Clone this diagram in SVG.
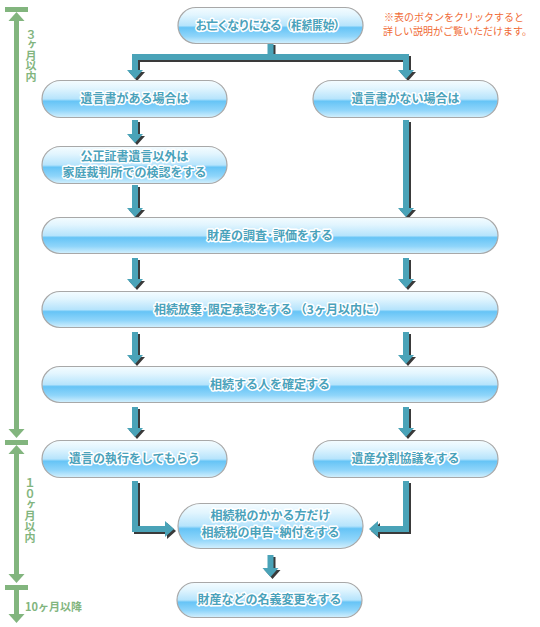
<svg xmlns="http://www.w3.org/2000/svg" xmlns:xlink="http://www.w3.org/1999/xlink" width="540" height="627" viewBox="0 0 540 627">
<defs>
<linearGradient id="pg" x1="0" y1="0" x2="0" y2="1">
<stop offset="0" stop-color="#f4fcff"/>
<stop offset="0.2" stop-color="#e2f5fe"/>
<stop offset="0.5" stop-color="#b6e4fc"/>
<stop offset="0.56" stop-color="#66c4f6"/>
<stop offset="0.8" stop-color="#8fd5fa"/>
<stop offset="1" stop-color="#d4f0fd"/>
</linearGradient>
<style>
.pill{fill:url(#pg);stroke:#a8a8a8;stroke-width:1.2}
.pt{font-family:"Noto Sans CJK JP","Noto Sans",sans-serif;font-weight:bold;font-size:12px;fill:#4aa2bb;stroke:#ffffff;stroke-width:3;stroke-linejoin:round;paint-order:stroke;text-anchor:middle}
.arr{fill:#4aa3b8}
.sh{fill:#3a3a3a}
.tl{fill:#82b57e}
.tlt{font-family:"Noto Sans CJK JP","Noto Sans",sans-serif;font-weight:bold;font-size:11px;fill:#82b57e}
.vt{writing-mode:vertical-rl;text-orientation:upright}
.note{font-family:"Noto Sans CJK JP","Noto Sans",sans-serif;font-size:10px;fill:#f06a35}
</style>
<g id="arrowshapes">
<path id="a0" d="M267.5,43 H273.5 V54 H409 V70 H414 L406,79 L398,70 H403 V60 H138 V70 H143 L135,79 L127,70 H132 V54 H267.5 Z"/>
<path id="a1" d="M132,120 H138 V134 H143 L135,143 L127,134 H132 Z"/>
<path id="a2" d="M132,185 H138 V208 H143 L135,217 L127,208 H132 Z"/>
<path id="a3" d="M403,120 H409 V208 H414 L406,217 L398,208 H403 Z"/>
<path id="a4" d="M132,258 H138 V279 H143 L135,288 L127,279 H132 Z"/>
<path id="a5" d="M403,258 H409 V279 H414 L406,288 L398,279 H403 Z"/>
<path id="a6" d="M132,332 H138 V355 H143 L135,364 L127,355 H132 Z"/>
<path id="a7" d="M403,332 H409 V355 H414 L406,364 L398,355 H403 Z"/>
<path id="a8" d="M132,407 H138 V428 H143 L135,437 L127,428 H132 Z"/>
<path id="a9" d="M403,407 H409 V428 H414 L406,437 L398,428 H403 Z"/>
<path id="a10" d="M132,481 H138 V526 H165 V521 L174,529 L165,537 V532 H132 Z"/>
<path id="a11" d="M409,481 V532 H378 V537 L369,529 L378,521 V526 H403 V481 Z"/>
<path id="a12" d="M267.5,555 H273.5 V568 H278.5 L270.5,577 L262.5,568 H267.5 Z"/>
</g>
</defs>
<rect width="540" height="627" fill="#ffffff"/>

<g id="timeline">
<rect class="tl" x="5" y="7" width="23" height="5"/>
<polygon class="tl" points="16.5,12 24.5,21 8.5,21"/>
<rect class="tl" x="14" y="20" width="5" height="410"/>
<polygon class="tl" points="8.5,429 24.5,429 16.5,438"/>
<rect class="tl" x="5" y="440" width="23" height="5"/>
<polygon class="tl" points="16.5,445 24.5,454 8.5,454"/>
<rect class="tl" x="14" y="453" width="5" height="122"/>
<polygon class="tl" points="8.5,574 24.5,574 16.5,583"/>
<rect class="tl" x="5" y="585" width="23" height="5"/>
<rect class="tl" x="14" y="589" width="5" height="26"/>
<polygon class="tl" points="8.5,614 24.5,614 16.5,623"/>
<text class="tlt vt" x="31" y="29" letter-spacing="-0.4">３ヶ月以内</text>
<text class="tlt vt" x="30" y="477">１０ヶ月以内</text>
<text class="tlt" x="25" y="611">10ヶ月以降</text>
</g>

<g id="note">
<text class="note" x="384" y="21">※表のボタンをクリックすると</text>
<text class="note" x="383" y="35">詳しい説明がご覧いただけます。</text>
</g>

<g id="connectors">
<g class="sh" transform="translate(2,2)">
<use xlink:href="#a0"/><use xlink:href="#a1"/><use xlink:href="#a2"/><use xlink:href="#a3"/><use xlink:href="#a4"/><use xlink:href="#a5"/><use xlink:href="#a6"/><use xlink:href="#a7"/><use xlink:href="#a8"/><use xlink:href="#a9"/><use xlink:href="#a10"/><use xlink:href="#a11"/><use xlink:href="#a12"/>
</g>
<g class="arr">
<use xlink:href="#a0"/><use xlink:href="#a1"/><use xlink:href="#a2"/><use xlink:href="#a3"/><use xlink:href="#a4"/><use xlink:href="#a5"/><use xlink:href="#a6"/><use xlink:href="#a7"/><use xlink:href="#a8"/><use xlink:href="#a9"/><use xlink:href="#a10"/><use xlink:href="#a11"/><use xlink:href="#a12"/>
</g>
</g>

<g id="n1"><rect class="pill" x="178" y="7.5" width="185" height="36" rx="18"/><text class="pt" x="270.5" y="29.5" textLength="150" lengthAdjust="spacing">お亡くなりになる（相続開始）</text></g>
<g id="n2"><rect class="pill" x="42" y="80.5" width="185" height="37" rx="18.5"/><text class="pt" x="134.5" y="103">遺言書がある場合は</text></g>
<g id="n3"><rect class="pill" x="313" y="80.5" width="185" height="37" rx="18.5"/><text class="pt" x="405.5" y="103">遺言書がない場合は</text></g>
<g id="n4"><rect class="pill" x="42" y="146.5" width="185" height="37" rx="18.5"/><text class="pt" x="134.5" y="161">公正証書遺言以外は</text><text class="pt" x="134.5" y="177">家庭裁判所での検認をする</text></g>
<g id="n5"><rect class="pill" x="42" y="217.5" width="456" height="36" rx="18"/><text class="pt" x="270" y="239.5">財産の調査･評価をする</text></g>
<g id="n6"><rect class="pill" x="42" y="291.5" width="456" height="36" rx="18"/><text class="pt" x="270" y="313.5">相続放棄･限定承認をする （3ヶ月以内に）</text></g>
<g id="n7"><rect class="pill" x="42" y="366.5" width="456" height="36" rx="18"/><text class="pt" x="270" y="388.5">相続する人を確定する</text></g>
<g id="n8"><rect class="pill" x="42" y="440.5" width="185" height="37" rx="18.5"/><text class="pt" x="134.5" y="463">遺言の執行をしてもらう</text></g>
<g id="n9"><rect class="pill" x="313" y="440.5" width="185" height="37" rx="18.5"/><text class="pt" x="405.5" y="463">遺産分割協議をする</text></g>
<g id="n10"><rect class="pill" x="178" y="503.5" width="185" height="45" rx="22.5"/><text class="pt" x="270.5" y="519.5">相続税のかかる方だけ</text><text class="pt" x="270.5" y="537">相続税の申告･納付をする</text></g>
<g id="n11"><rect class="pill" x="177" y="582.5" width="185" height="35" rx="17.5"/><text class="pt" x="269.5" y="604">財産などの名義変更をする</text></g>
</svg>
